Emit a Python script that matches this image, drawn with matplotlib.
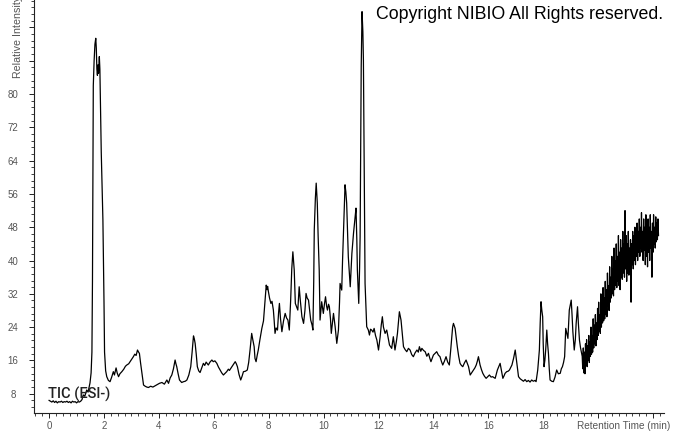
import matplotlib
matplotlib.use("Agg")
import matplotlib.pyplot as plt
from matplotlib.ticker import MultipleLocator, FixedLocator

# ---------------- data ----------------
# baseline + first large peak
t_early = [0.00, 0.05, 0.10, 0.15, 0.20, 0.25, 0.30, 0.35, 0.40, 0.45, 0.50, 0.55,
           0.60, 0.65, 0.70, 0.75, 0.80, 0.85, 0.90, 0.95, 1.00, 1.05, 1.10, 1.15,
           1.20, 1.22, 1.25, 1.30, 1.37, 1.42, 1.49, 1.53, 1.56, 1.58, 1.61, 1.64,
           1.67, 1.70, 1.72, 1.74, 1.76, 1.78, 1.80, 1.83, 1.85, 1.87, 1.90, 1.96,
           2.00, 2.02, 2.06, 2.10, 2.16, 2.22, 2.28, 2.34, 2.38, 2.44, 2.48, 2.53,
           2.58, 2.65, 2.72, 2.78, 2.83, 2.90, 2.95, 3.00, 3.07, 3.12, 3.17, 3.22,
           3.26, 3.29, 3.33, 3.38, 3.44, 3.50, 3.56, 3.62, 3.70, 3.78, 3.86, 3.94,
           4.02, 4.11, 4.20, 4.29]
i_early = [6.4, 6.2, 6.0, 6.3, 5.9, 6.2, 5.8, 6.1, 6.0, 6.2, 5.9, 6.1,
           6.0, 6.2, 5.9, 6.1, 5.8, 6.2, 6.0, 6.1, 5.8, 6.1, 6.0, 6.2,
           6.6, 7.2, 7.7, 7.4, 8.9, 8.4, 10.6, 13.0, 18.0, 35.0, 82.0, 88.0,
           92.0, 93.4, 91.0, 86.0, 84.5, 87.0, 85.0, 89.0, 86.0, 78.0, 66.0, 49.8,
           30.0, 18.0, 13.5, 12.1, 11.2, 10.9, 12.0, 13.3, 12.5, 14.2, 13.0, 12.1,
           12.8, 13.3, 13.9, 14.6, 14.9, 15.2, 15.7, 16.2, 16.9, 17.5, 17.2, 18.5,
           18.0, 17.7, 15.5, 13.0, 10.1, 9.8, 9.6, 9.5, 9.8, 9.6, 9.9, 10.2,
           10.5, 10.7, 10.3, 11.3]

# middle section with the cluster of peaks
t_mid = [4.35, 4.41, 4.47, 4.53, 4.59, 4.62, 4.65, 4.70, 4.75, 4.83, 4.90, 4.96,
         5.02, 5.09, 5.16, 5.21, 5.26, 5.29, 5.32, 5.36, 5.40, 5.45, 5.50, 5.56,
         5.62, 5.67, 5.72, 5.80, 5.86, 5.93, 5.98, 6.04, 6.11, 6.17, 6.23, 6.29,
         6.35, 6.41, 6.47, 6.53, 6.57, 6.62, 6.70, 6.78, 6.82, 6.86, 6.92, 6.98,
         7.03, 7.08, 7.15, 7.22, 7.27, 7.32, 7.38, 7.42, 7.47, 7.50, 7.54, 7.58,
         7.62, 7.68, 7.75, 7.81, 7.87, 7.91, 7.94, 7.96, 7.99, 8.03, 8.08, 8.12,
         8.17, 8.20, 8.23, 8.27, 8.32, 8.36, 8.39, 8.43, 8.48, 8.54, 8.60, 8.65,
         8.70, 8.75, 8.80, 8.84, 8.88, 8.93, 8.97, 9.02, 9.06, 9.11, 9.15, 9.21,
         9.27, 9.32, 9.36, 9.40, 9.45, 9.49, 9.53, 9.58, 9.61, 9.64, 9.66, 9.70,
         9.73, 9.75, 9.77, 9.80, 9.84, 9.87, 9.93, 9.99, 10.03, 10.07, 10.11, 10.14,
         10.18, 10.21, 10.25, 10.28, 10.32, 10.36, 10.42, 10.48, 10.54, 10.58, 10.60, 10.66,
         10.69, 10.72, 10.76, 10.78, 10.81, 10.84, 10.87, 10.90, 10.97, 11.03, 11.09, 11.12,
         11.15, 11.18, 11.21, 11.23, 11.28, 11.31, 11.33, 11.37, 11.40, 11.43, 11.45, 11.47,
         11.49, 11.51, 11.55, 11.57, 11.63, 11.67, 11.71, 11.75, 11.80, 11.84, 11.89, 11.94,
         12.00, 12.06, 12.10, 12.14, 12.18, 12.24, 12.30, 12.35, 12.40, 12.48, 12.54, 12.60,
         12.65, 12.69, 12.73, 12.76, 12.82, 12.87, 12.91, 12.97, 13.03, 13.09, 13.15, 13.21,
         13.27, 13.33, 13.40, 13.45, 13.49, 13.54, 13.58, 13.64, 13.70, 13.76, 13.82, 13.87,
         13.91, 13.96, 14.00, 14.06, 14.12, 14.18, 14.24, 14.29, 14.34, 14.40, 14.46, 14.52,
         14.58, 14.63, 14.67, 14.70, 14.73, 14.79, 14.83, 14.87, 14.92, 14.97, 15.02, 15.07,
         15.13, 15.19, 15.24, 15.28, 15.34, 15.40, 15.46, 15.51, 15.56, 15.60, 15.64, 15.70,
         15.75, 15.80, 15.86, 15.92, 15.98, 16.04, 16.10, 16.16, 16.20, 16.25, 16.33, 16.38,
         16.43, 16.48, 16.53, 16.58, 16.61, 16.67, 16.72, 16.77, 16.86, 16.92, 16.98, 17.04,
         17.10, 17.16, 17.22, 17.28, 17.34, 17.40, 17.46, 17.52, 17.58, 17.64, 17.70, 17.74,
         17.80, 17.86, 17.89, 17.92, 17.95, 17.98, 18.00, 18.03, 18.06, 18.09, 18.13, 18.16,
         18.19, 18.22, 18.25, 18.31, 18.37, 18.43, 18.49, 18.55, 18.62, 18.66, 18.70, 18.74,
         18.78, 18.82, 18.86, 18.90, 18.95, 19.02, 19.05, 19.08, 19.13, 19.17, 19.20, 19.25,
         19.28, 19.32, 19.36, 19.40]
i_mid = [10.5, 11.8, 12.5, 14.0, 16.1, 15.2, 14.5, 12.8, 11.3, 10.7, 10.9, 11.0,
         11.3, 12.5, 14.5, 18.0, 21.9, 21.2, 20.1, 17.5, 14.5, 13.5, 13.1, 14.2,
         15.3, 14.8, 15.6, 14.9, 15.6, 16.1, 15.7, 15.9, 15.3, 14.4, 13.7, 13.0,
         12.5, 12.9, 13.3, 13.9, 13.6, 14.1, 14.9, 15.7, 15.2, 14.5, 12.6, 11.3,
         12.2, 13.3, 13.4, 13.7, 15.5, 18.5, 22.5, 21.0, 19.3, 16.5, 15.7, 17.2,
         18.5, 21.0, 23.7, 25.5, 30.5, 34.1, 33.0, 33.8, 32.5, 31.0, 29.7, 30.2,
         28.1, 25.5, 22.5, 23.8, 23.3, 27.5, 29.7, 26.0, 22.9, 25.5, 27.3, 26.2,
         25.7, 23.3, 30.5, 38.0, 42.1, 37.7, 29.7, 28.8, 28.1, 33.7, 30.5, 26.5,
         24.9, 28.0, 32.1, 31.0, 30.5, 28.0, 25.7, 24.5, 23.3, 35.0, 47.4, 55.0,
         58.6, 56.0, 53.8, 46.0, 37.7, 25.7, 30.1, 27.3, 29.5, 31.3, 29.0, 28.1,
         29.5, 28.9, 26.0, 22.5, 25.0, 27.3, 24.1, 20.1, 23.3, 30.0, 34.5, 32.9,
         40.0, 45.7, 54.0, 58.2, 56.5, 53.8, 47.0, 40.9, 33.7, 41.7, 46.6, 48.5,
         50.6, 52.6, 45.0, 37.7, 29.7, 38.0, 45.7, 86.6, 99.8, 95.0, 88.2, 70.0,
         54.6, 34.5, 27.4, 24.1, 23.3, 22.1, 23.5, 23.3, 22.8, 23.7, 22.0, 20.9,
         18.5, 21.7, 24.5, 26.5, 24.0, 22.5, 23.3, 21.5, 19.7, 18.9, 21.7, 18.5,
         20.5, 22.5, 25.5, 27.7, 25.7, 22.0, 19.3, 18.6, 18.1, 18.9, 18.5, 17.4,
         16.9, 17.8, 18.5, 18.0, 19.3, 18.2, 18.9, 18.4, 18.1, 17.0, 17.7, 16.5,
         15.7, 16.6, 17.3, 17.7, 18.1, 17.3, 16.9, 15.8, 14.9, 15.8, 16.9, 15.6,
         14.9, 18.5, 21.7, 24.0, 24.9, 23.7, 21.5, 19.3, 17.0, 15.3, 14.8, 14.5,
         15.4, 16.1, 15.2, 14.5, 12.5, 13.1, 13.7, 14.2, 14.9, 15.8, 16.9, 14.9,
         13.8, 12.9, 12.2, 11.7, 12.1, 12.5, 12.0, 12.1, 11.9, 11.7, 13.7, 14.5,
         15.3, 13.5, 11.7, 12.4, 12.9, 13.3, 13.4, 13.7, 14.9, 16.5, 18.5, 15.3,
         12.1, 11.6, 11.3, 11.0, 11.4, 10.9, 11.2, 10.8, 11.3, 11.0, 11.2, 10.9,
         13.7, 18.5, 25.0, 30.1, 28.0, 26.5, 20.0, 14.5, 16.0, 18.5, 23.3, 20.0,
         17.7, 14.0, 11.3, 11.0, 10.9, 12.0, 13.7, 12.8, 12.9, 14.0, 14.5, 15.5,
         16.9, 23.7, 22.5, 21.3, 28.1, 30.5, 27.0, 22.9, 18.5, 21.0, 24.9, 28.9,
         25.0, 20.9, 19.0, 17.7]

# noisy rising tail (sampled every 0.02 min)
t_tail_start = 19.42
t_tail_step = 0.02
i_tail = [17.0, 14.0, 19.0, 13.0, 18.0, 12.8, 20.0, 15.0, 21.0, 14.5,
          19.5, 16.0, 22.0, 15.5, 20.5, 17.0, 24.0, 17.5, 22.0, 18.0,
          26.0, 19.0, 24.5, 20.0, 27.0, 19.5, 25.0, 21.0, 28.5, 22.0,
          30.0, 23.0, 27.0, 22.5, 32.0, 24.0, 29.0, 25.0, 33.5, 25.5,
          31.0, 26.0, 35.0, 27.0, 33.0, 26.5, 37.0, 29.0, 34.0, 28.0,
          38.5, 30.0, 36.0, 31.0, 41.0, 32.0, 38.0, 31.5, 43.0, 33.0,
          40.0, 34.0, 44.0, 33.5, 41.0, 35.0, 46.0, 34.0, 42.0, 33.0,
          45.0, 36.0, 43.0, 35.5, 47.0, 37.0, 44.0, 36.0, 52.0, 38.0,
          46.0, 35.0, 44.0, 37.0, 47.0, 36.5, 43.0, 38.0, 45.0, 30.0,
          44.0, 39.0, 47.0, 38.0, 46.0, 40.0, 48.0, 39.0, 45.0, 41.0,
          49.0, 40.0, 47.0, 42.0, 50.0, 41.0, 48.0, 43.0, 51.5, 42.0,
          47.0, 40.0, 50.0, 42.5, 48.0, 39.0, 51.0, 41.0, 47.0, 38.5,
          50.0, 42.0, 48.0, 40.0, 51.0, 43.0, 47.0, 36.0, 49.0, 42.0,
          51.0, 44.0, 48.0, 43.0, 50.5, 44.5, 49.0, 45.0, 50.0, 46.0]
t_tail = [round(t_tail_start + k * t_tail_step, 2) for k in range(len(i_tail))]

time_min = t_early + t_mid + t_tail
intensity = i_early + i_mid + i_tail

x_major = [0, 2, 4, 6, 8, 10, 12, 14, 16, 18, 20, 22]
x_labels = ["0", "2", "4", "6", "8", "10", "12", "14", "16", "18", "", ""]
y_major = [8, 16, 24, 32, 40, 48, 56, 64, 72, 80, 88, 96]
y_labels = ["8", "16", "24", "32", "40", "48", "56", "64", "72", "80", "", ""]

# ---------------- figure ----------------
W, H = 673, 433
fig = plt.figure(figsize=(W / 100, H / 100), dpi=100)
left_px, right_px, bottom_px, top_px = 34, 664, 413, 0
ax = fig.add_axes([left_px / W, 1 - bottom_px / H, (right_px - left_px) / W,
                   (bottom_px - top_px) / H])

ax.plot(time_min, intensity, color="black", linewidth=0.9, zorder=3)

ax.set_xlim(-0.55, 22.40)
ax.set_ylim(3.37, 102.6)

for s in ["top", "right"]:
    ax.spines[s].set_visible(False)
for s in ["left", "bottom"]:
    ax.spines[s].set_linewidth(0.8)
    ax.spines[s].set_color("#222222")

ax.xaxis.set_major_locator(FixedLocator(x_major))
ax.set_xticklabels(x_labels)
ax.xaxis.set_minor_locator(MultipleLocator(0.25))
ax.yaxis.set_major_locator(FixedLocator(y_major))
ax.set_yticklabels(y_labels)
ax.yaxis.set_minor_locator(MultipleLocator(1.6))

ax.tick_params(axis="both", which="major", direction="out", length=3.6, width=0.7,
               colors="#222222", labelcolor="#555555", labelsize=7)
ax.tick_params(axis="both", which="minor", direction="out", length=2.2, width=0.6,
               colors="#222222")
ax.tick_params(axis="x", which="major", pad=2.5)
ax.tick_params(axis="y", which="major", pad=11.5)
for lab in ax.get_xticklabels() + ax.get_yticklabels():
    lab.set_fontfamily("Liberation Sans")
for lab in ax.get_yticklabels():
    lab.set_horizontalalignment("center")

# axis titles placed where the last tick labels would be
fig.text(670 / W, 1 - 426 / H, "Retention Time (min)", ha="right", va="center",
         fontsize=7.2, color="#555555", family="Liberation Sans")
fig.text(18 / W, 1 - 78 / H, "Relative Intensity", rotation=90, ha="center",
         va="bottom", fontsize=7.7, color="#555555", family="Liberation Sans")

fig.text(376 / W, 1 - 19 / H, "Copyright NIBIO All Rights reserved.",
         ha="left", va="baseline", fontsize=12.8, color="black",
         family="Liberation Sans")
fig.text(47.5 / W, 1 - 398.5 / H, "TIC (ESI-)", ha="left", va="baseline",
         fontsize=10.5, color="#222222", family="Roboto", fontweight="medium")

fig.savefig("out.png", dpi=100)
